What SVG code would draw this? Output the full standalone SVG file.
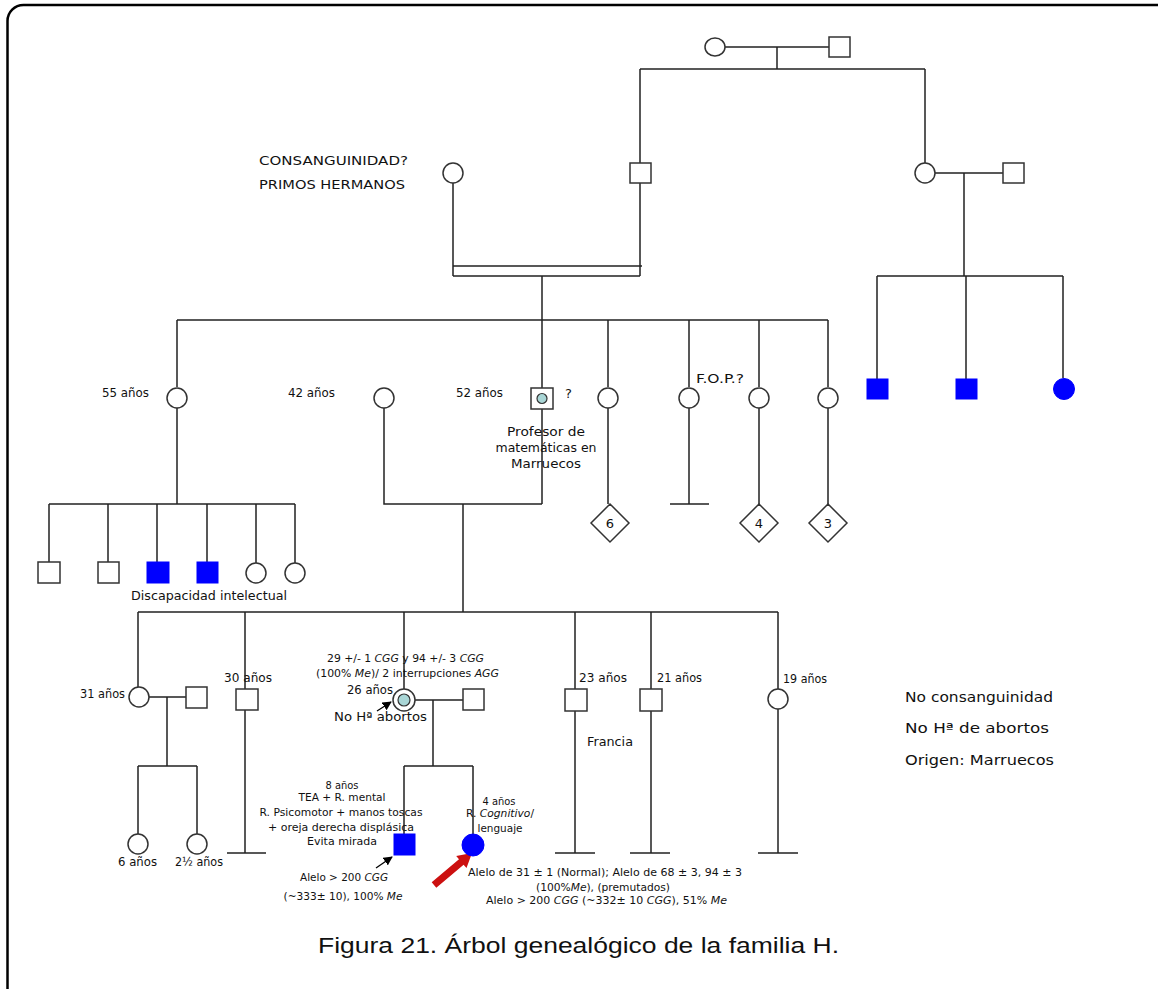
<svg xmlns="http://www.w3.org/2000/svg" width="1158" height="989" viewBox="0 0 1158 989">
<defs>
<style>
.ln{stroke:#222;stroke-width:1.5;fill:none}
.nd{stroke:#333;stroke-width:1.5;fill:#fff}
.aff{fill:#0000ff;stroke:#0000ff;stroke-width:1}
.dot{fill:#a9d6d6;stroke:#333;stroke-width:1.2}
.t{font-family:"DejaVu Sans","Liberation Sans",sans-serif;fill:#111}
.s12{font-size:12.5px}
.s11{font-size:11px}
.s13{font-size:13px}
.s14{font-size:14.5px}
.cap{font-family:"Liberation Sans",Arial,sans-serif;font-size:22px;fill:#111}
</style>
<marker id="ah" viewBox="0 0 10 10" refX="9" refY="5" markerWidth="7" markerHeight="7" orient="auto">
<path d="M0,0 L10,5 L0,10 z" fill="#000"/>
</marker>
</defs>
<rect x="7.5" y="5" width="1170" height="1010" rx="16" fill="#fff" stroke="#000" stroke-width="2.5"/>

<g id="connectors">
<path class="ln" d="M725,47 H829 M777,47 V69 M640,69 H925 M640,69 V163 M925,69 V164"/>
<path class="ln" d="M453,183 V276 M640,183 V276 M453,266 H642 M453,276 H640 M542,276 V320"/>
<path class="ln" d="M935,173 H1003 M964,173 V276 M877,276 H1063 M877,276 V379 M966,276 V379 M1063,276 V378"/>
<path class="ln" d="M177,320 H828 M177,320 V387 M542,320 V388 M608,320 V387 M689,320 V387 M759,320 V387 M828,320 V387"/>
<path class="ln" d="M177,408 V504 M49,504 H295 M49,504 V562 M108,504 V562 M157,504 V562 M207,504 V562 M256,504 V563 M295,504 V563"/>
<path class="ln" d="M384,408 V504 H542 M542,409 V504 M463,504 V612"/>
<path class="ln" d="M608,408 V504 M689,408 V504 M670,504 H709 M759,408 V504 M828,408 V504"/>
<path class="ln" d="M138,612 H778 M138,612 V687 M245,612 V689 M404,612 V689 M575,612 V689 M651,612 V689 M778,612 V689"/>
<path class="ln" d="M149,697 H186 M167,697 V766 M138,766 H197 M138,766 V834 M197,766 V834"/>
<path class="ln" d="M245,710 V853 M227,853 H266"/>
<path class="ln" d="M415,700 H463 M433,700 V766 M404,766 H473 M404,766 V834 M473,766 V835"/>
<path class="ln" d="M575,711 V853 M555,853 H595 M651,711 V853 M630,853 H670 M778,709 V853 M758,853 H798"/>
<line x1="377" y1="711" x2="391" y2="702" stroke="#000" stroke-width="1.3" marker-end="url(#ah)"/>
<line x1="376" y1="868" x2="392" y2="857" stroke="#000" stroke-width="1.3" marker-end="url(#ah)"/>
<polygon points="431.7,882.3 459.0,859.3 456.2,855.9 472,853 466.5,868.1 463.6,864.7 436.3,887.7" fill="#cc1010"/>
</g>

<g id="gen1">
<g id="I1"><ellipse class="nd" cx="715" cy="47" rx="10" ry="9"/></g>
<g id="I2"><rect class="nd" x="829" y="37" width="21" height="20"/></g>
</g>

<g id="gen2">
<g id="II1"><circle class="nd" cx="453" cy="173" r="10"/></g>
<g id="II2"><rect class="nd" x="630" y="163" width="21" height="20"/></g>
<g id="II3"><circle class="nd" cx="925" cy="173" r="10"/></g>
<g id="II4"><rect class="nd" x="1003" y="163" width="21" height="20"/></g>
</g>

<g id="gen3">
<g id="III55"><circle class="nd" cx="177" cy="398" r="10"/></g>
<g id="III42"><circle class="nd" cx="384" cy="398" r="10"/></g>
<g id="III52"><rect class="nd" x="531" y="388" width="22" height="21"/><circle class="dot" cx="542" cy="398.5" r="5"/></g>
<g id="III4"><circle class="nd" cx="608" cy="398" r="10"/></g>
<g id="III5"><circle class="nd" cx="689" cy="398" r="10"/></g>
<g id="III6"><circle class="nd" cx="759" cy="398" r="10"/></g>
<g id="III7"><circle class="nd" cx="828" cy="398" r="10"/></g>
<g id="IIIr1"><rect class="aff" x="867" y="379" width="21" height="20"/></g>
<g id="IIIr2"><rect class="aff" x="956" y="379" width="21" height="20"/></g>
<g id="IIIr3"><circle class="aff" cx="1064" cy="389" r="10.5"/></g>
</g>

<g id="gen4">
<g id="IV1"><rect class="nd" x="38" y="562" width="22" height="21"/></g>
<g id="IV2"><rect class="nd" x="98" y="562" width="21" height="21"/></g>
<g id="IV3"><rect class="aff" x="147" y="562" width="22" height="21"/></g>
<g id="IV4"><rect class="aff" x="197" y="562" width="21" height="21"/></g>
<g id="IV5"><circle class="nd" cx="256" cy="573" r="10"/></g>
<g id="IV6"><circle class="nd" cx="295" cy="573" r="10"/></g>
<g id="D6"><polygon class="nd" points="610,504 629,523 610,542 591,523"/><text class="t s13" x="610" y="528" text-anchor="middle">6</text></g>
<g id="D4"><polygon class="nd" points="759,504 778,523 759,542 740,523"/><text class="t s13" x="759" y="528" text-anchor="middle">4</text></g>
<g id="D3"><polygon class="nd" points="828,504 847,523 828,542 809,523"/><text class="t s13" x="828" y="528" text-anchor="middle">3</text></g>
<g id="IV31"><circle class="nd" cx="139" cy="697" r="10"/></g>
<g id="IV31sp"><rect class="nd" x="186" y="687" width="21" height="21"/></g>
<g id="IV30"><rect class="nd" x="236" y="689" width="22" height="21"/></g>
<g id="IV26"><circle class="nd" cx="404" cy="700" r="11"/><circle class="dot" cx="404" cy="700" r="6"/></g>
<g id="IV26sp"><rect class="nd" x="463" y="689" width="21" height="21"/></g>
<g id="IV23"><rect class="nd" x="565" y="689" width="22" height="22"/></g>
<g id="IV21"><rect class="nd" x="640" y="689" width="22" height="22"/></g>
<g id="IV19"><circle class="nd" cx="778" cy="699" r="10"/></g>
</g>

<g id="gen5">
<g id="V1"><circle class="nd" cx="138" cy="844" r="10"/></g>
<g id="V2"><circle class="nd" cx="197" cy="844" r="10"/></g>
<g id="V3"><rect class="aff" x="394" y="834" width="21" height="21"/></g>
<g id="V4"><circle class="aff" cx="473" cy="845" r="11"/></g>
</g>

<g id="labels">
<text class="t s13" x="259" y="165" textLength="149" lengthAdjust="spacingAndGlyphs">CONSANGUINIDAD?</text>
<text class="t s13" x="259" y="189" textLength="146" lengthAdjust="spacingAndGlyphs">PRIMOS HERMANOS</text>
<text class="t s12" x="102" y="397" textLength="47" lengthAdjust="spacingAndGlyphs">55 años</text>
<text class="t s12" x="288" y="397" textLength="47" lengthAdjust="spacingAndGlyphs">42 años</text>
<text class="t s12" x="456" y="397" textLength="47" lengthAdjust="spacingAndGlyphs">52 años</text>
<text class="t s13" x="565" y="398">?</text>
<text class="t s13" x="696" y="383" textLength="48" lengthAdjust="spacingAndGlyphs">F.O.P.?</text>
<text class="t s12" x="546" y="436" text-anchor="middle" textLength="78" lengthAdjust="spacingAndGlyphs">Profesor de</text>
<text class="t s12" x="546" y="452" text-anchor="middle" textLength="101" lengthAdjust="spacingAndGlyphs">matemáticas en</text>
<text class="t s12" x="546" y="468" text-anchor="middle" textLength="70" lengthAdjust="spacingAndGlyphs">Marruecos</text>
<text class="t s12" x="131" y="600" textLength="156" lengthAdjust="spacingAndGlyphs">Discapacidad intelectual</text>
<text class="t s11" x="327" y="662" textLength="157" lengthAdjust="spacingAndGlyphs">29 +/- 1 <tspan font-style="italic">CGG</tspan> y 94 +/- 3 <tspan font-style="italic">CGG</tspan></text>
<text class="t s11" x="316" y="677" textLength="183" lengthAdjust="spacingAndGlyphs">(100% <tspan font-style="italic">Me</tspan>)/ 2 interrupciones <tspan font-style="italic">AGG</tspan></text>
<text class="t s12" x="347" y="694" textLength="46" lengthAdjust="spacingAndGlyphs">26 años</text>
<text class="t s12" x="334" y="721" textLength="93" lengthAdjust="spacingAndGlyphs">No Hª abortos</text>
<text class="t s12" x="80" y="698" textLength="45" lengthAdjust="spacingAndGlyphs">31 años</text>
<text class="t s12" x="224" y="682" textLength="48" lengthAdjust="spacingAndGlyphs">30 años</text>
<text class="t s12" x="579" y="682" textLength="48" lengthAdjust="spacingAndGlyphs">23 años</text>
<text class="t s12" x="657" y="682" textLength="45" lengthAdjust="spacingAndGlyphs">21 años</text>
<text class="t s12" x="783" y="683" textLength="44" lengthAdjust="spacingAndGlyphs">19 años</text>
<text class="t s12" x="587" y="746" textLength="46" lengthAdjust="spacingAndGlyphs">Francia</text>
<text class="t s14" x="905" y="702" textLength="148" lengthAdjust="spacingAndGlyphs">No consanguinidad</text>
<text class="t s14" x="905" y="733" textLength="144" lengthAdjust="spacingAndGlyphs">No Hª de abortos</text>
<text class="t s14" x="905" y="765" textLength="149" lengthAdjust="spacingAndGlyphs">Origen: Marruecos</text>
<text class="t s12" x="118" y="866" textLength="39" lengthAdjust="spacingAndGlyphs">6 años</text>
<text class="t s12" x="175" y="866" textLength="48" lengthAdjust="spacingAndGlyphs">2½ años</text>
<text class="t s11" x="342" y="789" text-anchor="middle" textLength="33" lengthAdjust="spacingAndGlyphs">8 años</text>
<text class="t s11" x="342" y="801" text-anchor="middle" textLength="87" lengthAdjust="spacingAndGlyphs">TEA + R. mental</text>
<text class="t s11" x="341" y="816" text-anchor="middle" textLength="163" lengthAdjust="spacingAndGlyphs">R. Psicomotor + manos toscas</text>
<text class="t s11" x="341" y="831" text-anchor="middle" textLength="146" lengthAdjust="spacingAndGlyphs">+ oreja derecha displásica</text>
<text class="t s11" x="342" y="845" text-anchor="middle" textLength="70" lengthAdjust="spacingAndGlyphs">Evita mirada</text>
<text class="t s11" x="344" y="881" text-anchor="middle" textLength="88" lengthAdjust="spacingAndGlyphs">Alelo &gt; 200 <tspan font-style="italic">CGG</tspan></text>
<text class="t s11" x="343" y="900" text-anchor="middle" textLength="119" lengthAdjust="spacingAndGlyphs">(~333± 10), 100% <tspan font-style="italic">Me</tspan></text>
<text class="t s11" x="499" y="805" text-anchor="middle" textLength="33" lengthAdjust="spacingAndGlyphs">4 años</text>
<text class="t s11" x="500" y="817" text-anchor="middle" textLength="68" lengthAdjust="spacingAndGlyphs">R. <tspan font-style="italic">Cognitivo</tspan>/</text>
<text class="t s11" x="500" y="832" text-anchor="middle" textLength="45" lengthAdjust="spacingAndGlyphs">lenguaje</text>
<text class="t s11" x="468" y="876" textLength="274" lengthAdjust="spacingAndGlyphs">Alelo  de 31 ± 1 (Normal); Alelo de 68 ± 3, 94 ± 3</text>
<text class="t s11" x="536" y="891" textLength="134" lengthAdjust="spacingAndGlyphs">(100%<tspan font-style="italic">Me</tspan>), (premutados)</text>
<text class="t s11" x="486" y="904" textLength="241" lengthAdjust="spacingAndGlyphs">Alelo  &gt; 200 <tspan font-style="italic">CGG</tspan> (~332± 10 <tspan font-style="italic">CGG</tspan>), 51% <tspan font-style="italic">Me</tspan></text>
<text class="cap" x="318" y="953" textLength="521" lengthAdjust="spacingAndGlyphs">Figura 21. Árbol genealógico de la familia H.</text>
</g>
</svg>
